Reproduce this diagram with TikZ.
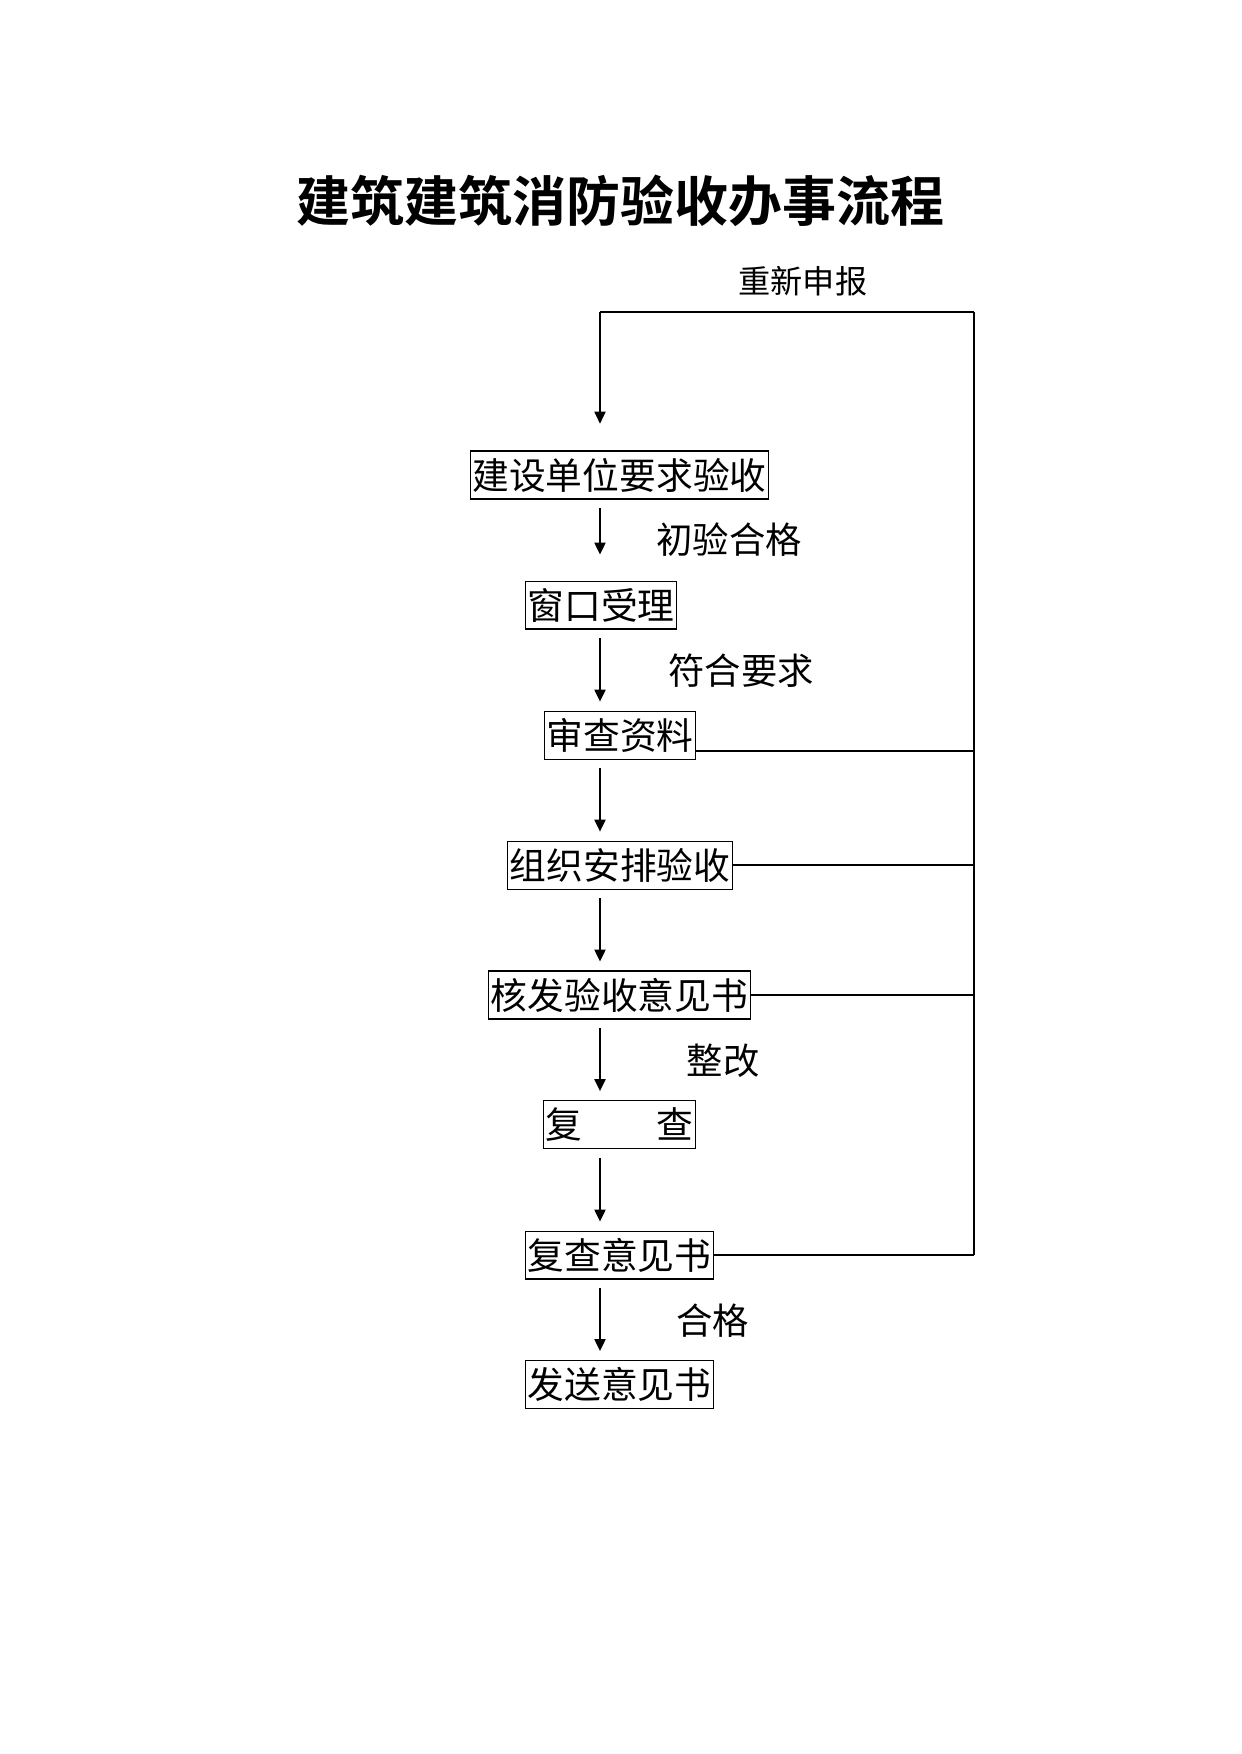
\documentclass[tikz,border=0pt]{standalone}
\usepackage{fontspec}
\newfontfamily\cjk{Noto Sans CJK SC}[BoldFont={Noto Sans CJK SC Bold}]
\usepackage{tikz}
\usetikzlibrary{arrows.meta}
\pgfdeclarelayer{bg}
\pgfsetlayers{bg,main}
\tikzset{
  stepbox/.style={draw, line width=0.5pt, inner xsep=1pt, inner ysep=0pt,
    minimum height=0.812cm, font=\cjk\fontsize{17.7pt}{20pt}\selectfont},
  note/.style={inner sep=0pt, font=\cjk\fontsize{17.5pt}{20pt}\selectfont},
  arr/.style={line width=0.8pt, -{Triangle[length=5.8pt,width=5.4pt]},
    shorten <=4.3pt, shorten >=4.3pt},
  link/.style={line width=0.8pt},
}

\begin{document}
\begin{tikzpicture}
        \useasboundingbox (0cm, 0cm) rectangle (21.000000cm, -29.681000cm);
        \node (t0) [inner sep=0pt, font=\cjk\bfseries\fontsize{26pt}{30pt}\selectfont] at (10.500000cm, -3.401000cm) {建筑建筑消防验收办事流程};
        \node (v0) [stepbox] at (10.483000cm, -8.038000cm) {建设单位要求验收};
        \node (v1) [stepbox] at (10.170000cm, -10.238000cm) {窗口受理};
        \node (v2) [stepbox] at (10.492000cm, -12.438000cm) {审查资料};
        \node (v3) [stepbox] at (10.492000cm, -14.638000cm) {组织安排验收};
        \node (v4) [stepbox] at (10.483000cm, -16.837000cm) {核发验收意见书};
        \node (v5) [stepbox] at (10.483000cm, -19.029000cm) {复\hspace{2em}查};
        \node (v6) [stepbox] at (10.483000cm, -21.237000cm) {复查意见书};
        \node (v7) [stepbox] at (10.483000cm, -23.428000cm) {发送意见书};
        \node (l0) [note, font=\cjk\fontsize{15.5pt}{18pt}\selectfont] at (13.588000cm, -4.755000cm) {重新申报};
        \node (l1) [note] at (12.336000cm, -9.138000cm) {初验合格};
        \node (l2) [note] at (12.539000cm, -11.355000cm) {符合要求};
        \node (l3) [note] at (12.235000cm, -17.954000cm) {整改};
        \node (l4) [note] at (12.065000cm, -22.354000cm) {合格};
        \coordinate (ax) at (10.153000cm, -5.280000cm);
        \coordinate (rx) at (16.482000cm, -5.280000cm);
        \coordinate (c2) at ([yshift=-0.271cm]v2.east);
        \begin{pgfonlayer}{bg}
                \draw (rx) edge [line width=0.6pt] (ax);
                \draw (ax) edge [arr, line width=0.6pt, shorten <=0pt, shorten >=12.9pt] (v0.north -| ax);
                \draw (v0.south -| ax) edge [arr, shorten >=12.5pt] (v1.north -| ax);
                \draw (v1.south -| ax) edge [arr] (v2.north -| ax);
                \draw (v2.south -| ax) edge [arr] (v3.north -| ax);
                \draw (v3.south -| ax) edge [arr] (v4.north -| ax);
                \draw (v4.south -| ax) edge [arr] (v5.north -| ax);
                \draw (v5.south -| ax) edge [arr] (v6.north -| ax);
                \draw (v6.south -| ax) edge [arr] (v7.north -| ax);
                \draw (rx) edge [link] (v6 -| rx);
                \draw (c2) edge [link] (c2 -| rx);
                \draw (v3.east) edge [link] (v3 -| rx);
                \draw (v4.east) edge [link] (v4 -| rx);
                \draw (v6.east) edge [link] (v6 -| rx);
        \end{pgfonlayer}
\end{tikzpicture}
\end{document}
